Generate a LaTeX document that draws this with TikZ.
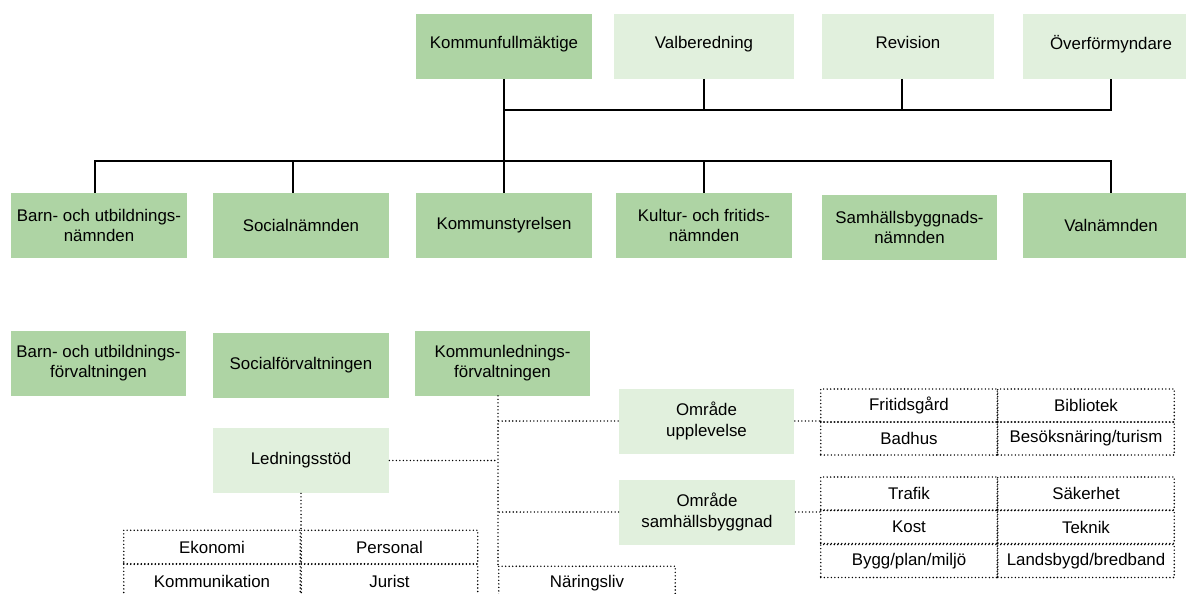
\documentclass[tikz,border=0pt]{standalone}
\usepackage{fontspec}
\setmainfont{Liberation Sans}
\definecolor{boxdark}{HTML}{AED4A4}
\definecolor{boxlight}{HTML}{E1F0DD}
\tikzset{
  dark/.style={fill=boxdark, minimum width=3.52cm, minimum height=1.3cm, inner sep=1pt, align=center, font=\fontsize{9.6}{11.8}\selectfont},
  light/.style={dark, fill=boxlight},
  topbox/.style={text depth=4.5pt},
  cell/.style={draw, line width=0.9pt, line cap=round, dash pattern=on 0pt off 2pt, minimum width=3.53cm, minimum height=0.67cm, inner sep=0pt, font=\fontsize{9.6}{11.8}\selectfont},
  link/.style={draw, line width=0.8pt},
  dotlink/.style={draw, line width=0.9pt, line cap=round, dash pattern=on 0pt off 2pt}
}
\begin{document}
\begin{tikzpicture}[x=0.02cm, y=-0.02cm]
\useasboundingbox (0,0) rectangle (1186,593);
\node[dark, topbox] (kf) at (504,46){Kommunfullmäktige};
\node[light, topbox, minimum width=3.6cm] (valb) at (704,46){Valberedning};
\node[light, topbox, minimum width=3.46cm] (rev) at (908,46){Revision};
\node[light, topbox] (over) at (1111,46){Överförmyndare};
\node[dark] (bun) at (99,225.5){Barn- och utbildnings-\\nämnden};
\node[dark] (soc) at (301,225.5){Socialnämnden};
\node[dark] (ks) at (504,225.5){Kommunstyrelsen};
\node[dark] (kfn) at (704,225.5){Kultur- och fritids-\\nämnden};
\node[dark] (sbn) at (909.5,227.5){Samhällsbyggnads-\\nämnden};
\node[dark] (valn) at (1111,225.5){Valnämnden};
\coordinate (tb) at (0,110);
\coordinate (nb) at (0,161);
\draw[link] (kf.south) -- (ks.north);
\draw[link] (kf.south |- tb) -| (over.south);
\draw[link] (valb.south) -- (valb.south |- tb);
\draw[link] ([xshift=-0.12cm]rev.south) -- ([xshift=-0.12cm]rev.south |- tb);
\draw[link] ([xshift=-0.08cm]bun.north) |- (nb -| valn.north) -- (valn.north);
\draw[link] ([xshift=-0.16cm]soc.north) -- ([xshift=-0.16cm]soc.north |- nb);
\draw[link] (kfn.north) -- (kfn.north |- nb);
\node[dark] (buf) at (98.5,363){Barn- och utbildnings-\\förvaltningen};
\node[dark] (socf) at (301,365){Socialförvaltningen};
\node[dark] (klf) at (502.5,363){Kommunlednings-\\förvaltningen};
\node[light] (led) at (301,460.5){Ledningsstöd};
\node[light] (omu) at (706.5,421){Område\\upplevelse};
\node[light] (oms) at (707,512){Område\\samhällsbyggnad};
\node[cell] (ek) at (212,547){Ekonomi};
\node[cell] (pers) at (389.5,547){Personal};
\node[cell] (komm) at (212,581){Kommunikation};
\node[cell] (jur) at (389.5,581){Jurist};
\node[cell] (nar) at (587,583){Näringsliv};
\node[cell, minimum height=0.66cm] (fri) at (909,405.5){Fritidsgård};
\node[cell, minimum height=0.66cm] (bib) at (1086,405.5){Bibliotek};
\node[cell, minimum height=0.66cm] (bad) at (909,438.5){Badhus};
\node[cell, minimum height=0.66cm] (bes) at (1086,438.5){Besöksnäring/turism};
\node[cell, minimum height=0.66cm] (traf) at (909,493.5){Trafik};
\node[cell, minimum height=0.66cm] (sak) at (1086,493.5){Säkerhet};
\node[cell, minimum height=0.66cm] (kost) at (909,527){Kost};
\node[cell, minimum height=0.66cm] (tek) at (1086,527){Teknik};
\node[cell, minimum height=0.66cm] (bygg) at (909,561){Bygg/plan/miljö};
\node[cell, minimum height=0.66cm] (land) at (1086,561){Landsbygd/bredband};
\coordinate (kx) at ([xshift=-0.09cm]klf.south);
\draw[dotlink] (kx) -- (kx |- nar.north);
\draw[dotlink] (omu.west) -- (omu.west -| kx);
\draw[dotlink] (led.east) -- (led.east -| kx);
\draw[dotlink] (oms.west) -- (oms.west -| kx);
\draw[dotlink] (led.south) -- (ek.north east);
\draw[dotlink] (omu.east) -- (omu.east -| fri.west);
\draw[dotlink] (oms.east) -- (oms.east -| kost.west);
\end{tikzpicture}
\end{document}
